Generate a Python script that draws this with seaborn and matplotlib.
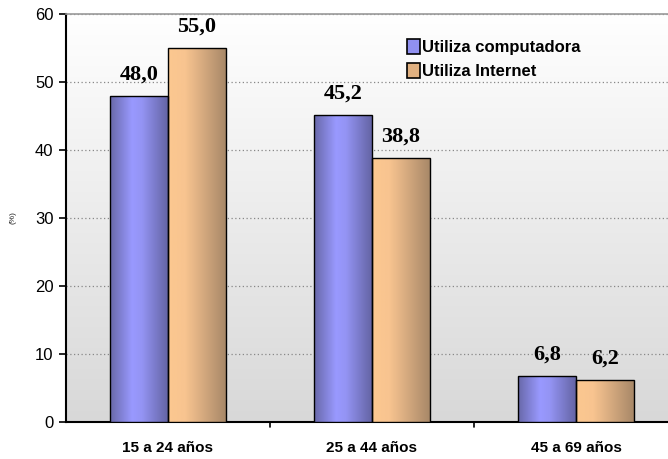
import numpy as np
import pandas as pd
import matplotlib.pyplot as plt
import seaborn as sns
from matplotlib.colors import LinearSegmentedColormap
from matplotlib.patches import Patch

# Data
grupos = ["15 a 24 años", "25 a 44 años", "45 a 69 años"]
series = ["Utiliza computadora", "Utiliza Internet"]
computadora = [48.0, 45.2, 6.8]
internet = [55.0, 38.8, 6.2]

df = pd.DataFrame({
    "grupo": grupos * 2,
    "serie": [series[0]] * 3 + [series[1]] * 3,
    "valor": computadora + internet,
})

sns.set_style("white")
plt.rcParams["font.family"] = ["Liberation Sans", "DejaVu Sans"]
plt.rcParams["text.color"] = "black"
plt.rcParams["xtick.color"] = "black"
plt.rcParams["ytick.color"] = "black"

fig = plt.figure(figsize=(6.68, 4.59), dpi=100)
ax = fig.add_axes([0.0988, 0.0806, 0.9012, 0.8889])

# background gradient (white top -> light gray bottom)
bg = np.linspace(0.0, 1.0, 256).reshape(-1, 1)
bg_cmap = LinearSegmentedColormap.from_list("bg", ["#ffffff", "#d8d8d8"])
ax.imshow(bg, cmap=bg_cmap, aspect="auto", extent=[0, 1, 0, 1],
          transform=ax.transAxes, zorder=0, vmin=0, vmax=1)

palette = {series[0]: "#9999ff", series[1]: "#f0c090"}
sns.barplot(data=df, x="grupo", y="valor", hue="serie", palette=palette,
            width=0.568, gap=0, edgecolor="black", linewidth=1.0,
            legend=False, ax=ax, zorder=3)

cmaps = {
    series[0]: LinearSegmentedColormap.from_list(
        "b", [(0, "#6868a8"), (0.38, "#9999ff"), (0.55, "#9494f4"), (1, "#6464a4")]),
    series[1]: LinearSegmentedColormap.from_list(
        "t", [(0, "#fcc890"), (0.3, "#f8c490"), (1, "#a88868")]),
}

grad = np.linspace(0, 1, 256).reshape(1, -1)
for container, name in zip(ax.containers, series):
    for bar in container:
        x0, y0 = bar.get_x(), bar.get_y()
        w, h = bar.get_width(), bar.get_height()
        im = ax.imshow(grad, cmap=cmaps[name], aspect="auto",
                       extent=[x0, x0 + w, y0, y0 + h], zorder=3.5)
        im.set_clip_path(bar)
        bar.set_facecolor("none")
        bar.set_zorder(4)
    labels = [f"{v:.1f}".replace(".", ",") for v in container.datavalues]
    ax.bar_label(container, labels=labels, padding=8, fontsize=16,
                 fontweight="bold", family="Liberation Serif", zorder=5)

ax.set_xlim(-0.5, 2.451)
ax.set_ylim(0, 60)
ax.set_yticks(range(0, 61, 10))
ax.yaxis.grid(True, linestyle=(0, (1, 2)), color="#888888", linewidth=0.9)
ax.set_axisbelow(True)
ax.tick_params(axis="y", which="major", direction="out", length=5, width=1.2,
               color="black", labelsize=12, left=True, pad=4)
ax.set_xticks([0, 1, 2])
ax.set_xticklabels(grupos, fontsize=11, fontweight="bold")
ax.tick_params(axis="x", length=0, pad=14)
for xt in [0.5, 1.5]:
    ax.plot([xt, xt], [0, -0.012], transform=ax.get_xaxis_transform(),
            color="black", lw=1.2, clip_on=False)

ax.set_xlabel("")
ax.set_ylabel("(%)", fontsize=6)
ax.yaxis.set_label_coords(-0.083, 0.5)

for s in ["left", "bottom"]:
    ax.spines[s].set_visible(True)
    ax.spines[s].set_color("black")
    ax.spines[s].set_linewidth(1.5)
ax.spines["top"].set_color("#999999")
ax.spines["top"].set_linewidth(1.2)
ax.spines["right"].set_visible(False)

handles = [Patch(facecolor="#9090f0", edgecolor="black", lw=1.2, label=series[0]),
           Patch(facecolor="#e0b080", edgecolor="black", lw=1.2, label=series[1])]
ax.legend(handles=handles, loc="upper left", bbox_to_anchor=(0.556, 0.955),
          frameon=False, prop={"weight": "bold", "size": 12},
          handlelength=0.75, handleheight=1.0, handletextpad=0.15,
          labelspacing=0.45, borderaxespad=0)

fig.savefig("out.png", dpi=100)
